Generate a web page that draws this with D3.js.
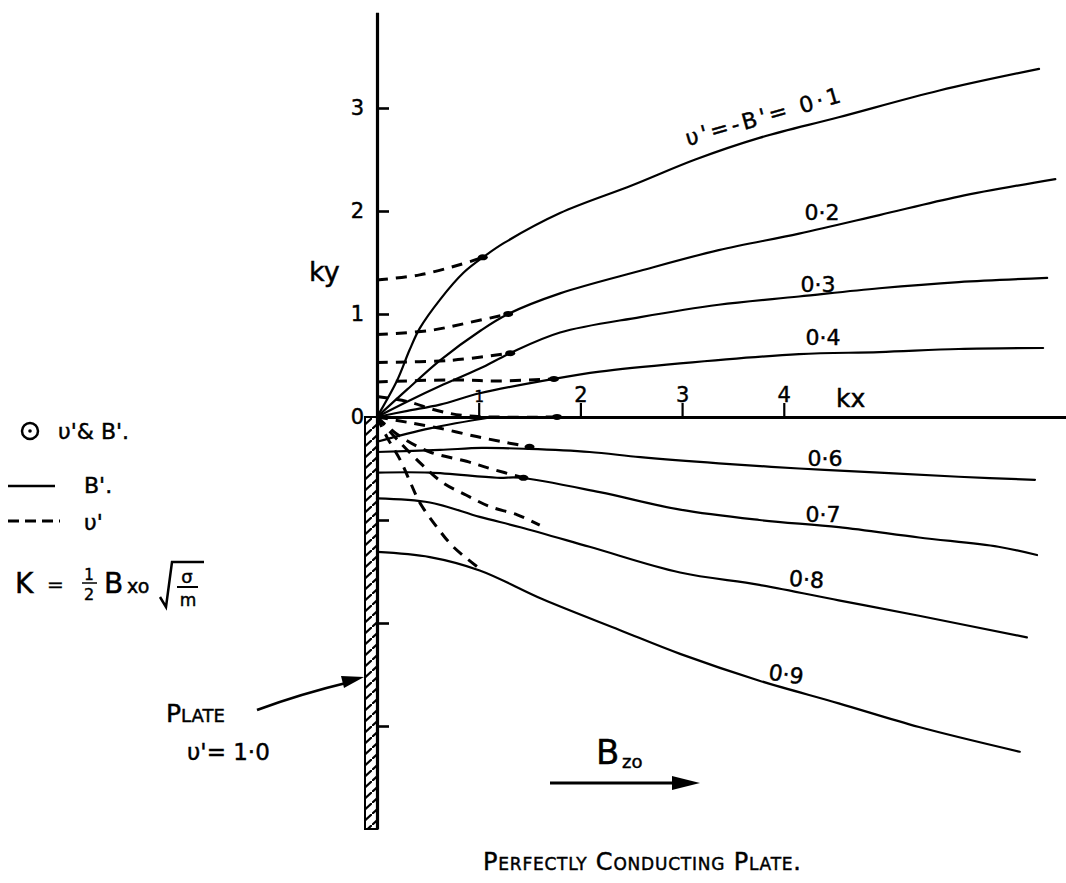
<!DOCTYPE html>
<html>
<head>
<meta charset="utf-8">
<script src="https://cdn.jsdelivr.net/npm/d3@7"></script>
<style>
    body { margin: 0; background: #fff; }
    svg text { font-family: "DejaVu Sans", sans-serif; fill: #000; stroke: #000; stroke-width: 0.45px; }
</style>
</head>
<body>
<svg id="chart" width="1066" height="883"></svg>
<script>
(function () {
    'use strict';

    // tick values of the kx / ky axes
    var xTicks = [1, 2, 3, 4];
    var yTicks = [-3, -2, -1, 0, 1, 2, 3];
    var yTickLabels = ['', '', '', '0', '1', '2', '3'];

    // solid lines: B' contours, [kx, ky]
    var bLevels = ['0·1', '0·2', '0·3', '0·4', '0·5', '0·6', '0·7', '0·8', '0·9'];
    var b01 = [[0, 0], [0.2, 0.36], [0.32, 0.65], [0.42, 0.86], [0.62, 1.14], [0.85, 1.40], [1.07, 1.57], [1.25, 1.69], [1.8, 1.98], [2.51, 2.25], [3.13, 2.50], [3.76, 2.71], [4.54, 2.91], [5.53, 3.17], [6.51, 3.38]];
    var b02 = [[0, 0], [0.3, 0.27], [0.62, 0.55], [1.02, 0.84], [1.29, 1.0], [1.8, 1.2], [2.59, 1.42], [3.36, 1.62], [4.15, 1.78], [4.94, 1.96], [5.72, 2.14], [6.67, 2.31]];
    var b03 = [[0, 0], [0.3, 0.15], [0.62, 0.30], [1.01, 0.47], [1.31, 0.62], [1.8, 0.82], [2.59, 0.97], [3.36, 1.09], [4.15, 1.17], [4.94, 1.25], [5.72, 1.31], [6.59, 1.35]];
    var b04 = [[0, 0], [0.3, 0.06], [0.62, 0.12], [1.01, 0.23], [1.74, 0.37], [2.19, 0.44], [2.98, 0.52], [4.15, 0.61], [4.94, 0.63], [5.72, 0.66], [6.55, 0.67]];
    var b05 = [[0, -0.24], [0.52, -0.11], [1.14, 0]];
    var b06 = [[0, -0.34], [0.62, -0.32], [1.03, -0.30], [1.49, -0.31], [2.09, -0.34], [2.59, -0.39], [3.36, -0.45], [4.15, -0.50], [4.94, -0.54], [5.72, -0.58], [6.47, -0.61]];
    var b07 = [[0, -0.54], [0.52, -0.54], [1.18, -0.59], [1.41, -0.59], [2.19, -0.73], [2.98, -0.90], [3.76, -1.00], [4.54, -1.07], [5.33, -1.17], [6.11, -1.26], [6.49, -1.34]];
    var b08 = [[0, -0.79], [0.52, -0.83], [1.01, -0.97], [1.41, -1.07], [2.09, -1.26], [2.98, -1.51], [3.76, -1.63], [4.54, -1.78], [5.33, -1.93], [6.39, -2.14]];
    var b09 = [[0, -1.31], [0.52, -1.36], [1.01, -1.49], [1.63, -1.77], [2.39, -2.07], [2.98, -2.30], [3.76, -2.56], [4.54, -2.78], [5.33, -3.01], [6.32, -3.25]];

    // dashed lines: v' contours, [kx, ky]
    var v01 = [[0, 1.33], [0.42, 1.38], [0.82, 1.48], [1.04, 1.55]];
    var v02 = [[0, 0.80], [0.52, 0.84], [0.92, 0.92], [1.29, 1.0]];
    var v03 = [[0, 0.53], [0.72, 0.55], [1.31, 0.62]];
    var v04 = [[0, 0.34], [0.72, 0.36], [1.2, 0.35], [1.74, 0.37]];
    var v05 = [[0, 0.2], [0.3, 0.15], [0.6, 0.06], [0.9, 0.01], [1.77, 0]];
    var v06 = [[0, 0], [0.29, -0.05], [0.62, -0.11], [0.98, -0.19], [1.28, -0.25], [1.5, -0.29]];
    var v07 = [[0, 0], [0.23, -0.19], [0.52, -0.34], [0.88, -0.43], [1.11, -0.50], [1.44, -0.59]];
    var v08 = [[0, 0], [0.2, -0.22], [0.45, -0.47], [0.65, -0.64], [0.88, -0.76], [1.11, -0.87], [1.38, -0.95], [1.6, -1.05]];
    var v09 = [[0, 0], [0.1, -0.2], [0.23, -0.42], [0.33, -0.64], [0.42, -0.83], [0.59, -1.07], [0.75, -1.26], [1.02, -1.48]];

    var bLines = [b01, b02, b03, b04, b05, b06, b07, b08, b09];
    var vLines = [v01, v02, v03, v04, v05, v06, v07, v08, v09];
    var blobLines = [v01, v02, v03, v04, v05, v06, v07];

    var svg = d3.select('#chart');

    var x = d3.scaleLinear().domain([0, 6.78]).range([377, 1066.5]);
    var y = d3.scaleLinear().domain([-4, 3.93]).range([829, 12.2]);

    var line = d3.line()
        .x(function (d) { return x(d[0]); })
        .y(function (d) { return y(d[1]); })
        .curve(d3.curveCatmullRom.alpha(0.5));

    // plate, hatched
    var defs = svg.append('defs');
    defs.append('pattern')
        .attr('id', 'hatch')
        .attr('patternUnits', 'userSpaceOnUse')
        .attr('width', 12).attr('height', 11)
        .append('path')
        .attr('d', 'M0,11 L12,0')
        .attr('stroke', '#000').attr('stroke-width', 2.2);

    svg.append('rect')
        .attr('x', 365).attr('y', y(0))
        .attr('width', 12).attr('height', y(-4) - y(0))
        .attr('fill', 'url(#hatch)')
        .attr('stroke', '#000').attr('stroke-width', 2);

    // ky axis
    var yAxis = d3.axisLeft(y)
        .tickValues(yTicks)
        .tickSizeInner(-12)
        .tickSizeOuter(0)
        .tickPadding(13)
        .tickFormat(function (d, i) { return yTickLabels[i]; });

    var gy = svg.append('g')
        .attr('transform', 'translate(' + x(0) + ',0)')
        .call(yAxis);
    gy.select('.domain').attr('stroke-width', 3.2);
    gy.selectAll('.tick line').attr('stroke-width', 2.6);
    gy.selectAll('.tick text').attr('font-size', 21).attr('font-family', '"DejaVu Sans", sans-serif');

    // kx axis
    var xAxis = d3.axisTop(x)
        .tickValues(xTicks)
        .tickSizeInner(14)
        .tickSizeOuter(0)
        .tickPadding(1)
        .tickFormat(d3.format('d'));

    var gx = svg.append('g')
        .attr('transform', 'translate(0,' + y(0) + ')')
        .call(xAxis);
    gx.select('.domain').attr('stroke-width', 3);
    gx.selectAll('.tick line').attr('stroke-width', 2.2);
    gx.selectAll('.tick text')
        .attr('font-size', function (d) { return d === 1 ? 15 : 21; })
        .attr('font-family', '"DejaVu Sans", sans-serif');

    // B' contours
    svg.selectAll('.bline')
        .data(bLines)
        .enter()
        .append('path')
        .attr('class', 'bline')
        .attr('d', line)
        .attr('fill', 'none')
        .attr('stroke', '#000')
        .attr('stroke-width', 2.2)
        .attr('stroke-linecap', 'round');

    // v' contours
    svg.selectAll('.vline')
        .data(vLines)
        .enter()
        .append('path')
        .attr('class', 'vline')
        .attr('d', line)
        .attr('fill', 'none')
        .attr('stroke', '#000')
        .attr('stroke-width', 3)
        .attr('stroke-dasharray', '11,8');

    // blobs where the dashed line meets its solid line
    svg.selectAll('.blob')
        .data(blobLines)
        .enter()
        .append('ellipse')
        .attr('class', 'blob')
        .attr('cx', function (d) { return x(d[d.length - 1][0]); })
        .attr('cy', function (d) { return y(d[d.length - 1][1]); })
        .attr('rx', 5).attr('ry', 3)
        .attr('fill', '#000');

    // contour labels
    var labelPos = [[765, 124, -16], [822, 220, 0], [818, 292, 0], [823, 345, 0], null,
        [825, 466, 0], [823, 522, 0], [806, 587, 4], [785, 682, 8]];
    svg.selectAll('.clabel')
        .data(bLevels.filter(function (d, i) { return labelPos[i]; }))
        .enter()
        .append('text')
        .attr('class', 'clabel')
        .attr('text-anchor', 'middle')
        .attr('font-size', 22)
        .attr('transform', function (d) {
            var p = labelPos[bLevels.indexOf(d)];
            return 'translate(' + p[0] + ',' + p[1] + ') rotate(' + p[2] + ')';
        })
        .attr('textLength', function (d, i) { return i === 0 ? 160 : null; })
        .text(function (d, i) { return i === 0 ? "υ'=-B'= " + d : d; });

    // axis names
    svg.append('text').attr('x', 836).attr('y', 407).attr('font-size', 25).text('kx');
    svg.append('text').attr('x', 309).attr('y', 281).attr('font-size', 27).text('ky');

    // legend
    svg.append('circle').attr('cx', 30).attr('cy', 431).attr('r', 8)
        .attr('fill', 'none').attr('stroke', '#000').attr('stroke-width', 2.5);
    svg.append('circle').attr('cx', 30).attr('cy', 431).attr('r', 1.8).attr('fill', '#000');
    svg.append('text').attr('x', 58).attr('y', 439).attr('font-size', 22).text("υ'& B'.");
    svg.append('line').attr('x1', 8).attr('x2', 55).attr('y1', 486).attr('y2', 486)
        .attr('stroke', '#000').attr('stroke-width', 2.5);
    svg.append('text').attr('x', 84).attr('y', 493).attr('font-size', 22).text("B'.");
    svg.append('line').attr('x1', 8).attr('x2', 60).attr('y1', 521).attr('y2', 521)
        .attr('stroke', '#000').attr('stroke-width', 3).attr('stroke-dasharray', '11,6');
    svg.append('text').attr('x', 84).attr('y', 530).attr('font-size', 22).text("υ'");

    // K = 1/2 Bxo sqrt(sigma/m)
    var kf = svg.append('g');
    kf.append('text').attr('x', 15).attr('y', 593).attr('font-size', 28).text('K');
    kf.append('text').attr('x', 47).attr('y', 591).attr('font-size', 20).text('=');
    kf.append('text').attr('x', 89).attr('y', 580).attr('font-size', 15).attr('text-anchor', 'middle').text('1');
    kf.append('line').attr('x1', 82).attr('x2', 97).attr('y1', 583).attr('y2', 583).attr('stroke', '#000').attr('stroke-width', 1.5);
    kf.append('text').attr('x', 89).attr('y', 600).attr('font-size', 16).attr('text-anchor', 'middle').text('2');
    kf.append('text').attr('x', 104).attr('y', 593).attr('font-size', 28).text('B');
    kf.append('text').attr('x', 127).attr('y', 593).attr('font-size', 19).text('xo');
    kf.append('path').attr('d', 'M160,597 L166,607 L172,562 L204,562')
        .attr('fill', 'none').attr('stroke', '#000').attr('stroke-width', 2.5);
    kf.append('text').attr('x', 187).attr('y', 583).attr('font-size', 18).attr('text-anchor', 'middle').text('σ');
    kf.append('line').attr('x1', 177).attr('x2', 198).attr('y1', 587).attr('y2', 587).attr('stroke', '#000').attr('stroke-width', 2);
    kf.append('text').attr('x', 188).attr('y', 606).attr('font-size', 17).attr('text-anchor', 'middle').text('m');

    // plate label and arrow
    svg.append('text').attr('x', 166).attr('y', 722).attr('font-size', 25)
        .style('font-variant', 'small-caps').text('Plate');
    svg.append('text').attr('x', 187).attr('y', 760).attr('font-size', 23).text("υ'= 1·0");
    svg.append('path').attr('d', 'M257,710 Q300,694 350,682')
        .attr('fill', 'none').attr('stroke', '#000').attr('stroke-width', 2.8);
    svg.append('path').attr('d', 'M364,677 L341,676 L344,688 Z').attr('fill', '#000');

    // Bxo direction arrow
    svg.append('text').attr('x', 596).attr('y', 764).attr('font-size', 34).text('B');
    svg.append('text').attr('x', 622).attr('y', 768).attr('font-size', 18).text('zo');
    svg.append('line').attr('x1', 550).attr('x2', 676).attr('y1', 783).attr('y2', 783)
        .attr('stroke', '#000').attr('stroke-width', 3);
    svg.append('path').attr('d', 'M672,776 L700,783 L672,790 Z').attr('fill', '#000');

    // caption
    svg.append('text').attr('x', 483).attr('y', 870).attr('font-size', 24)
        .attr('textLength', 318)
        .style('font-variant', 'small-caps').text('Perfectly Conducting Plate.');
})();
</script>
</body>
</html>
